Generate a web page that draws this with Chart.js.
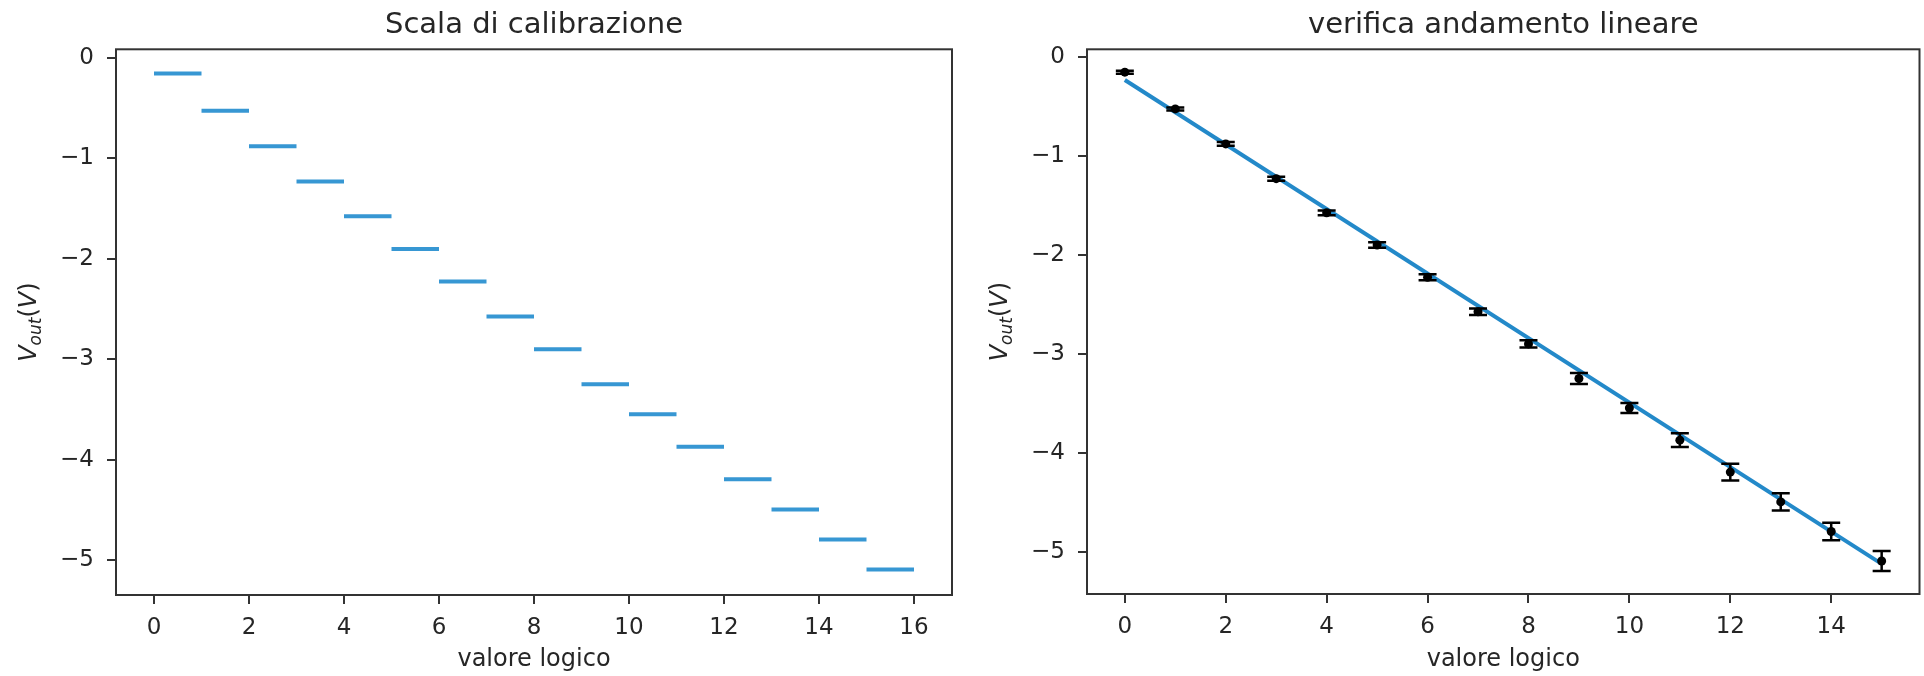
<!DOCTYPE html>
<html>
<head>
<meta charset="utf-8">
<script src="https://cdn.jsdelivr.net/npm/chart.js@4.4.1/dist/chart.umd.min.js"></script>
<style>
  html, body { margin:0; padding:0; background:#ffffff; width:1924px; height:676px; overflow:hidden; }
  .wrap { position:absolute; top:0; }
</style>
</head>
<body>
<div class="wrap" style="left:0px;width:960px;height:676px"><canvas id="c1" width="960" height="676"></canvas></div>
<div class="wrap" style="left:960px;width:964px;height:676px"><canvas id="c2" width="964" height="676"></canvas></div>
<script>
// ---------------- data ----------------
const logicValues = [0, 1, 2, 3, 4, 5, 6, 7, 8, 9, 10, 11, 12, 13, 14, 15];
const stepEnds    = [1, 2, 3, 4, 5, 6, 7, 8, 9, 10, 11, 12, 13, 14, 15, 16];
const vout    = [-0.156, -0.527, -0.880, -1.231, -1.576, -1.901, -2.226, -2.574,
                 -2.899, -3.248, -3.546, -3.871, -4.193, -4.494, -4.793, -5.091];
const voutErr = [0.015, 0.015, 0.018, 0.020, 0.024, 0.028, 0.030, 0.033,
                 0.037, 0.055, 0.050, 0.070, 0.085, 0.088, 0.088, 0.100];
const fitX = [0, 15];
const fitY = [-0.235, -5.12];

const xTicksLeft  = [0, 2, 4, 6, 8, 10, 12, 14, 16];
const xTicksRight = [0, 2, 4, 6, 8, 10, 12, 14];
const yTicks      = [0, -1, -2, -3, -4, -5];
const yTickLabels = ['0', '\u22121', '\u22122', '\u22123', '\u22124', '\u22125'];

const titleLeft  = 'Scala di calibrazione';
const titleRight = 'verifica andamento lineare';
const xLabel = 'valore logico';

// ---------------- style ----------------
const FONT = "'DejaVu Sans', 'Liberation Sans', sans-serif";
const TEXT = '#262626';
const FRAME = '#333333';

const framePlugin = {
  id: 'frame',
  afterDraw(chart) {
    const { ctx, chartArea: a } = chart;
    ctx.save();
    ctx.strokeStyle = FRAME;
    ctx.lineWidth = 2;
    ctx.strokeRect(a.left, a.top, a.right - a.left, a.bottom - a.top);
    ctx.restore();
  }
};

const yLabelPlugin = {
  id: 'ylab',
  afterDraw(chart) {
    const { ctx, chartArea: a } = chart;
    const baseX = a.left - 80;
    const cy = (a.top + a.bottom) / 2;
    const parts = [
      { t: 'V',   font: 'italic 24px ' + FONT, dv: 0 },
      { t: 'out', font: 'italic 17px ' + FONT, dv: 5 },
      { t: '(',   font: '24px ' + FONT,        dv: 0 },
      { t: 'V',   font: 'italic 24px ' + FONT, dv: 0 },
      { t: ')',   font: '24px ' + FONT,        dv: 0 }
    ];
    ctx.save();
    let total = 0;
    parts.forEach(p => { ctx.font = p.font; p.w = ctx.measureText(p.t).width; total += p.w; });
    ctx.translate(baseX, cy);
    ctx.rotate(-Math.PI / 2);
    ctx.fillStyle = TEXT;
    ctx.textBaseline = 'alphabetic';
    ctx.textAlign = 'left';
    let u = -total / 2;
    parts.forEach(p => { ctx.font = p.font; ctx.fillText(p.t, u, p.dv); u += p.w; });
    ctx.restore();
  }
};

const errorBarPlugin = {
  id: 'errbars',
  beforeDatasetDraw(chart, args) {
    if (args.index !== 0) return;
    const { ctx } = chart;
    const xs = chart.scales.x, ys = chart.scales.y;
    ctx.save();
    ctx.strokeStyle = '#000000';
    ctx.lineWidth = 2.5;
    const cap = 9;
    logicValues.forEach((lv, i) => {
      const px = xs.getPixelForValue(lv);
      const pTop = ys.getPixelForValue(vout[i] + voutErr[i]);
      const pBot = ys.getPixelForValue(vout[i] - voutErr[i]);
      ctx.beginPath();
      ctx.moveTo(px, pTop); ctx.lineTo(px, pBot);
      ctx.moveTo(px - cap, pTop); ctx.lineTo(px + cap, pTop);
      ctx.moveTo(px - cap, pBot); ctx.lineTo(px + cap, pBot);
      ctx.stroke();
    });
    ctx.restore();
  }
};

function makeScales(xmin, xmax, xticks, ymin, ymax, yWidth, xHeight) {
  return {
    x: {
      type: 'linear', min: xmin, max: xmax,
      afterBuildTicks: s => { s.ticks = xticks.map(v => ({ value: v })); },
      afterFit: s => { s.height = xHeight; },
      grid: { drawOnChartArea: false, drawTicks: true, tickLength: 9, color: FRAME, lineWidth: 2 },
      border: { display: false },
      ticks: { color: TEXT, font: { family: FONT, size: 23 }, padding: 10, maxRotation: 0, autoSkip: false,
               callback: v => String(v) },
      title: { display: true, text: xLabel, color: TEXT, font: { family: FONT, size: 24 },
               padding: { top: 0, bottom: 2 } }
    },
    y: {
      type: 'linear', min: ymin, max: ymax,
      afterBuildTicks: s => { s.ticks = yTicks.map(v => ({ value: v })); },
      afterFit: s => { s.width = yWidth; },
      grid: { drawOnChartArea: false, drawTicks: true, tickLength: 9, color: FRAME, lineWidth: 2 },
      border: { display: false },
      ticks: { color: TEXT, font: { family: FONT, size: 23 }, padding: 13, autoSkip: false,
               callback: v => { const k = yTicks.indexOf(v); return k >= 0 ? yTickLabels[k] : ''; } }
    }
  };
}

function commonPlugins(title) {
  return {
    legend: { display: false },
    tooltip: { enabled: false },
    title: { display: true, text: title, fullSize: false, color: TEXT,
             font: { family: FONT, size: 29, weight: 'normal' }, padding: { top: 8, bottom: 6.5 } }
  };
}

// ---------------- left chart: steps ----------------
const stepData = [];
logicValues.forEach((lv, i) => {
  stepData.push({ x: lv, y: vout[i] });
  stepData.push({ x: stepEnds[i], y: vout[i] });
  stepData.push({ x: stepEnds[i], y: null });
});

new Chart(document.getElementById('c1'), {
  type: 'scatter',
  data: {
    datasets: [{
      data: stepData, showLine: true, spanGaps: false,
      borderColor: '#3797d3', borderWidth: 4, borderCapStyle: 'butt',
      pointRadius: 0, pointHoverRadius: 0
    }]
  },
  options: {
    responsive: false, animation: false, events: [],
    layout: { padding: { left: 0, right: 8, top: 0, bottom: 0 } },
    scales: makeScales(-0.8, 16.8, xTicksLeft, -5.345, 0.085, 116, 81),
    plugins: commonPlugins(titleLeft)
  },
  plugins: [framePlugin, yLabelPlugin]
});

// ---------------- right chart: points + fit ----------------
new Chart(document.getElementById('c2'), {
  type: 'scatter',
  data: {
    datasets: [
      {
        data: logicValues.map((lv, i) => ({ x: lv, y: vout[i] })),
        pointRadius: 4.5, pointBackgroundColor: '#000000', pointBorderWidth: 0, showLine: false
      },
      {
        data: fitX.map((x, i) => ({ x: x, y: fitY[i] })),
        showLine: true, borderColor: '#2389c9', borderWidth: 4, pointRadius: 0
      }
    ]
  },
  options: {
    responsive: false, animation: false, events: [],
    layout: { padding: { left: 0, right: 2, top: 0, bottom: 0 } },
    scales: makeScales(-0.75, 15.75, xTicksRight, -5.424, 0.075, 127, 82),
    plugins: commonPlugins(titleRight)
  },
  plugins: [framePlugin, yLabelPlugin, errorBarPlugin]
});
</script>
</body>
</html>
